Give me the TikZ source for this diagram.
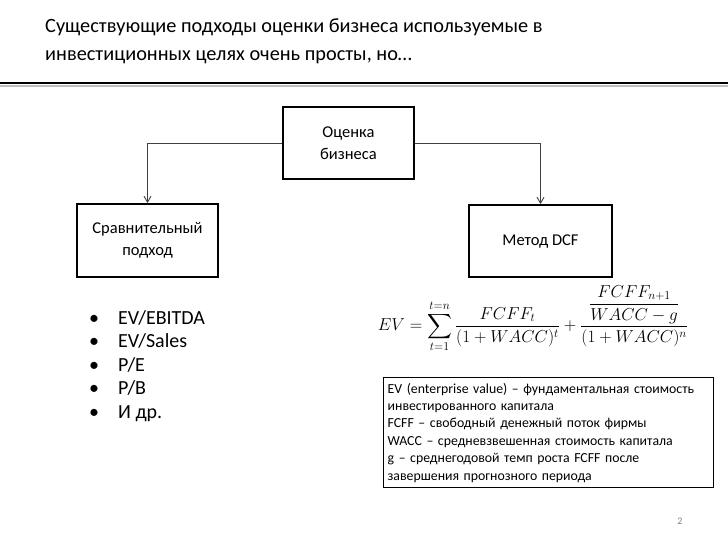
\documentclass[tikz,border=0pt]{standalone}
\usepackage{fontspec}
\setmainfont{Carlito}
\usepackage{amsmath}
\usetikzlibrary{arrows.meta}
\begin{document}
\begin{tikzpicture}[x=1pt,y=-1pt,
  box/.style={draw=black,line width=1.8pt,inner sep=0pt,align=center,font=\fontsize{16.5}{21.5}\selectfont},
  conn/.style={draw=black!75,line width=0.9pt,-{Straight Barb[length=6pt,width=7pt]}},
  bul/.style={anchor=base west,inner sep=0pt,font=\fontsize{20}{23}\selectfont},
  ttl/.style={anchor=base west,inner sep=0pt,font=\fontsize{20.3}{27}\selectfont}]
\useasboundingbox (0,0) rectangle (728,546);
% title
\node[ttl] (title1) at (45,32.5) {Существующие подходы оценки бизнеса используемые в};
\node[ttl] (title2) at (45,60.5) {инвестиционных целях очень просты, но\ldots};
\fill[black!25] (0,84.5) rectangle (728,86.5);
\draw[line width=2pt] (0,83) -- (728,83);
% boxes
\node[box,minimum width=131pt,minimum height=72pt] (top) at (348.5,143) {Оценка\\бизнеса};
\node[box,minimum width=141pt,minimum height=73pt] (left) at (147.5,240.5) {Сравнительный\\подход};
\node[box,minimum width=143pt,minimum height=72pt] (right) at (540.5,241) {Метод DCF};
\draw[conn] (top.west) -| (left.north);
\draw[conn] (top.east) -| (right.north);
% bullets
\foreach \t [count=\i] in {EV/EBITDA,EV/Sales,P/E,P/B,И др.}{
  \node[bul] (bd\i) at (89,{324+23.6*(\i-1)}) {\textbullet};
  \node[bul] (b\i) at (118,{324+23.6*(\i-1)}) {\t};
}
% formula
\node[inner sep=0pt,font=\fontsize{16.6}{20}\selectfont] (f) at (533,319)
  {$\displaystyle EV=\sum_{t=1}^{t=n}\frac{FCFF_t}{(1+WACC)^t}+\frac{\dfrac{FCFF_{n+1}}{WACC-g}}{(1+WACC)^n}$};
% legend
\node[draw=black,line width=1.3pt,anchor=north west,minimum width=330pt,minimum height=110pt,
  text width=322pt,align=left,inner xsep=4pt,inner ysep=2pt,font=\fontsize{13.8}{17.4}\selectfont] (leg) at (383,377)
  {EV (enterprise value) – фундаментальная стоимость\\
   инвестированного капитала\\
   FCFF – свободный денежный поток фирмы\\
   WACC – средневзвешенная стоимость капитала\\
   g – среднегодовой темп роста FCFF после\\
   завершения прогнозного периода};
% page number
\node[text=black!50,font=\fontsize{10}{12}\selectfont,inner sep=0pt] (pg) at (680,521) {2};
\end{tikzpicture}
\end{document}
